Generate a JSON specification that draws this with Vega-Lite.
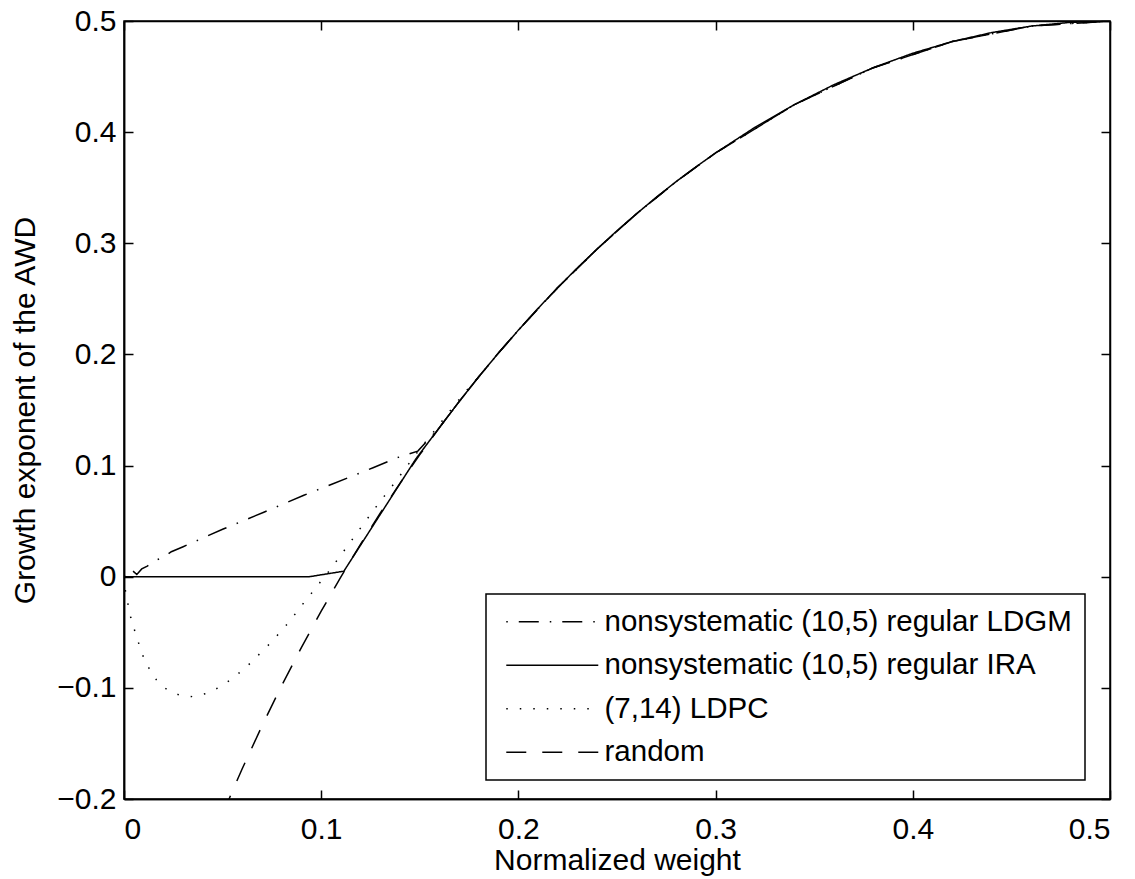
{
  "$schema": "https://vega.github.io/schema/vega-lite/v6.json",
  "width": 986,
  "height": 778,
  "autosize": {"type": "none"},
  "padding": {"left": 124, "top": 21, "right": 25, "bottom": 80},
  "background": "white",
  "config": {
    "view": {"stroke": "black", "strokeWidth": 1.5},
    "font": "Liberation Sans",
    "axis": {
      "grid": false,
      "domainColor": "black",
      "domainWidth": 1.5,
      "tickColor": "black",
      "tickWidth": 1.5,
      "tickSize": -9,
      "labelColor": "black",
      "labelFont": "Liberation Sans",
      "labelFontSize": 30,
      "titleColor": "black",
      "titleFont": "Liberation Sans",
      "titleFontSize": 30,
      "titleFontWeight": "normal"
    },
    "legend": {"strokeWidth": 1.5}
  },
  "datasets": {
    "d": [
      {"s": "nonsystematic (10,5) regular LDGM", "x": 0, "y": 0},
      {"s": "nonsystematic (10,5) regular LDGM", "x": 0.002, "y": 0.001},
      {"s": "nonsystematic (10,5) regular LDGM", "x": 0.004, "y": 0.006},
      {"s": "nonsystematic (10,5) regular LDGM", "x": 0.0065, "y": 0.002},
      {"s": "nonsystematic (10,5) regular LDGM", "x": 0.009, "y": 0.007},
      {"s": "nonsystematic (10,5) regular LDGM", "x": 0.0118, "y": 0.0096},
      {"s": "nonsystematic (10,5) regular LDGM", "x": 0.0164, "y": 0.015},
      {"s": "nonsystematic (10,5) regular LDGM", "x": 0.02, "y": 0.0175},
      {"s": "nonsystematic (10,5) regular LDGM", "x": 0.024, "y": 0.0225},
      {"s": "nonsystematic (10,5) regular LDGM", "x": 0.03, "y": 0.027},
      {"s": "nonsystematic (10,5) regular LDGM", "x": 0.0503, "y": 0.0429},
      {"s": "nonsystematic (10,5) regular LDGM", "x": 0.0709, "y": 0.058},
      {"s": "nonsystematic (10,5) regular LDGM", "x": 0.0912, "y": 0.0733},
      {"s": "nonsystematic (10,5) regular LDGM", "x": 0.1057, "y": 0.0834},
      {"s": "nonsystematic (10,5) regular LDGM", "x": 0.1263, "y": 0.0981},
      {"s": "nonsystematic (10,5) regular LDGM", "x": 0.1386, "y": 0.1071},
      {"s": "nonsystematic (10,5) regular LDGM", "x": 0.149, "y": 0.113},
      {"s": "nonsystematic (10,5) regular LDGM", "x": 0.16, "y": 0.1343},
      {"s": "nonsystematic (10,5) regular LDGM", "x": 0.17, "y": 0.1577},
      {"s": "nonsystematic (10,5) regular LDGM", "x": 0.18, "y": 0.1801},
      {"s": "nonsystematic (10,5) regular LDGM", "x": 0.19, "y": 0.2015},
      {"s": "nonsystematic (10,5) regular LDGM", "x": 0.2, "y": 0.2219},
      {"s": "nonsystematic (10,5) regular LDGM", "x": 0.22, "y": 0.2602},
      {"s": "nonsystematic (10,5) regular LDGM", "x": 0.24, "y": 0.295},
      {"s": "nonsystematic (10,5) regular LDGM", "x": 0.26, "y": 0.3267},
      {"s": "nonsystematic (10,5) regular LDGM", "x": 0.28, "y": 0.3555},
      {"s": "nonsystematic (10,5) regular LDGM", "x": 0.3, "y": 0.3813},
      {"s": "nonsystematic (10,5) regular LDGM", "x": 0.34, "y": 0.4248},
      {"s": "nonsystematic (10,5) regular LDGM", "x": 0.38, "y": 0.458},
      {"s": "nonsystematic (10,5) regular LDGM", "x": 0.42, "y": 0.4815},
      {"s": "nonsystematic (10,5) regular LDGM", "x": 0.46, "y": 0.4954},
      {"s": "nonsystematic (10,5) regular LDGM", "x": 0.5, "y": 0.5},

      {"s": "(7,14) LDPC", "x": 0, "y": 0},
      {"s": "(7,14) LDPC", "x": 0.0007, "y": -0.0126},
      {"s": "(7,14) LDPC", "x": 0.002, "y": -0.0245},
      {"s": "(7,14) LDPC", "x": 0.0034, "y": -0.0365},
      {"s": "(7,14) LDPC", "x": 0.0065, "y": -0.055},
      {"s": "(7,14) LDPC", "x": 0.0098, "y": -0.072},
      {"s": "(7,14) LDPC", "x": 0.0128, "y": -0.0828},
      {"s": "(7,14) LDPC", "x": 0.0165, "y": -0.0929},
      {"s": "(7,14) LDPC", "x": 0.0216, "y": -0.1013},
      {"s": "(7,14) LDPC", "x": 0.0279, "y": -0.1064},
      {"s": "(7,14) LDPC", "x": 0.0346, "y": -0.1079},
      {"s": "(7,14) LDPC", "x": 0.0414, "y": -0.1052},
      {"s": "(7,14) LDPC", "x": 0.0476, "y": -0.1001},
      {"s": "(7,14) LDPC", "x": 0.0534, "y": -0.0935},
      {"s": "(7,14) LDPC", "x": 0.0588, "y": -0.086},
      {"s": "(7,14) LDPC", "x": 0.064, "y": -0.0779},
      {"s": "(7,14) LDPC", "x": 0.0689, "y": -0.0692},
      {"s": "(7,14) LDPC", "x": 0.0738, "y": -0.0605},
      {"s": "(7,14) LDPC", "x": 0.0784, "y": -0.0515},
      {"s": "(7,14) LDPC", "x": 0.0829, "y": -0.0423},
      {"s": "(7,14) LDPC", "x": 0.0873, "y": -0.0324},
      {"s": "(7,14) LDPC", "x": 0.0915, "y": -0.0227},
      {"s": "(7,14) LDPC", "x": 0.0957, "y": -0.0135},
      {"s": "(7,14) LDPC", "x": 0.1001, "y": -0.0036},
      {"s": "(7,14) LDPC", "x": 0.1044, "y": 0.006},
      {"s": "(7,14) LDPC", "x": 0.1125, "y": 0.0256},
      {"s": "(7,14) LDPC", "x": 0.1206, "y": 0.0454},
      {"s": "(7,14) LDPC", "x": 0.1288, "y": 0.0652},
      {"s": "(7,14) LDPC", "x": 0.1373, "y": 0.0846},
      {"s": "(7,14) LDPC", "x": 0.1496, "y": 0.114},
      {"s": "(7,14) LDPC", "x": 0.1582, "y": 0.133},
      {"s": "(7,14) LDPC", "x": 0.167, "y": 0.153},
      {"s": "(7,14) LDPC", "x": 0.1756, "y": 0.1716},
      {"s": "(7,14) LDPC", "x": 0.18, "y": 0.1801},
      {"s": "(7,14) LDPC", "x": 0.19, "y": 0.2015},
      {"s": "(7,14) LDPC", "x": 0.2, "y": 0.2219},
      {"s": "(7,14) LDPC", "x": 0.22, "y": 0.2602},
      {"s": "(7,14) LDPC", "x": 0.24, "y": 0.295},
      {"s": "(7,14) LDPC", "x": 0.26, "y": 0.3267},
      {"s": "(7,14) LDPC", "x": 0.28, "y": 0.3555},
      {"s": "(7,14) LDPC", "x": 0.3, "y": 0.3813},
      {"s": "(7,14) LDPC", "x": 0.34, "y": 0.4248},
      {"s": "(7,14) LDPC", "x": 0.38, "y": 0.458},
      {"s": "(7,14) LDPC", "x": 0.42, "y": 0.4815},
      {"s": "(7,14) LDPC", "x": 0.46, "y": 0.4954},
      {"s": "(7,14) LDPC", "x": 0.5, "y": 0.5},

      {"s": "random", "x": 0.05, "y": -0.2136},
      {"s": "random", "x": 0.055, "y": -0.1928},
      {"s": "random", "x": 0.06, "y": -0.1726},
      {"s": "random", "x": 0.07, "y": -0.1341},
      {"s": "random", "x": 0.08, "y": -0.0978},
      {"s": "random", "x": 0.09, "y": -0.0635},
      {"s": "random", "x": 0.1, "y": -0.031},
      {"s": "random", "x": 0.11, "y": -0.0001},
      {"s": "random", "x": 0.12, "y": 0.0294},
      {"s": "random", "x": 0.13, "y": 0.0574},
      {"s": "random", "x": 0.14, "y": 0.0842},
      {"s": "random", "x": 0.15, "y": 0.1098},
      {"s": "random", "x": 0.16, "y": 0.1343},
      {"s": "random", "x": 0.17, "y": 0.1577},
      {"s": "random", "x": 0.18, "y": 0.1801},
      {"s": "random", "x": 0.19, "y": 0.2015},
      {"s": "random", "x": 0.2, "y": 0.2219},
      {"s": "random", "x": 0.22, "y": 0.2602},
      {"s": "random", "x": 0.24, "y": 0.295},
      {"s": "random", "x": 0.26, "y": 0.3267},
      {"s": "random", "x": 0.28, "y": 0.3555},
      {"s": "random", "x": 0.3, "y": 0.3813},
      {"s": "random", "x": 0.34, "y": 0.4248},
      {"s": "random", "x": 0.38, "y": 0.458},
      {"s": "random", "x": 0.42, "y": 0.4815},
      {"s": "random", "x": 0.46, "y": 0.4954},
      {"s": "random", "x": 0.5, "y": 0.5},

      {"s": "nonsystematic (10,5) regular IRA", "x": 0, "y": 0},
      {"s": "nonsystematic (10,5) regular IRA", "x": 0.094, "y": 0},
      {"s": "nonsystematic (10,5) regular IRA", "x": 0.1115, "y": 0.005},
      {"s": "nonsystematic (10,5) regular IRA", "x": 0.148, "y": 0.106},
      {"s": "nonsystematic (10,5) regular IRA", "x": 0.16, "y": 0.1343},
      {"s": "nonsystematic (10,5) regular IRA", "x": 0.17, "y": 0.1577},
      {"s": "nonsystematic (10,5) regular IRA", "x": 0.18, "y": 0.1801},
      {"s": "nonsystematic (10,5) regular IRA", "x": 0.19, "y": 0.2015},
      {"s": "nonsystematic (10,5) regular IRA", "x": 0.2, "y": 0.2219},
      {"s": "nonsystematic (10,5) regular IRA", "x": 0.21, "y": 0.2415},
      {"s": "nonsystematic (10,5) regular IRA", "x": 0.22, "y": 0.2602},
      {"s": "nonsystematic (10,5) regular IRA", "x": 0.23, "y": 0.278},
      {"s": "nonsystematic (10,5) regular IRA", "x": 0.24, "y": 0.295},
      {"s": "nonsystematic (10,5) regular IRA", "x": 0.25, "y": 0.3113},
      {"s": "nonsystematic (10,5) regular IRA", "x": 0.26, "y": 0.3267},
      {"s": "nonsystematic (10,5) regular IRA", "x": 0.27, "y": 0.3415},
      {"s": "nonsystematic (10,5) regular IRA", "x": 0.28, "y": 0.3555},
      {"s": "nonsystematic (10,5) regular IRA", "x": 0.29, "y": 0.3687},
      {"s": "nonsystematic (10,5) regular IRA", "x": 0.3, "y": 0.3813},
      {"s": "nonsystematic (10,5) regular IRA", "x": 0.32, "y": 0.4044},
      {"s": "nonsystematic (10,5) regular IRA", "x": 0.34, "y": 0.4248},
      {"s": "nonsystematic (10,5) regular IRA", "x": 0.36, "y": 0.4427},
      {"s": "nonsystematic (10,5) regular IRA", "x": 0.38, "y": 0.458},
      {"s": "nonsystematic (10,5) regular IRA", "x": 0.4, "y": 0.471},
      {"s": "nonsystematic (10,5) regular IRA", "x": 0.42, "y": 0.4815},
      {"s": "nonsystematic (10,5) regular IRA", "x": 0.44, "y": 0.4896},
      {"s": "nonsystematic (10,5) regular IRA", "x": 0.46, "y": 0.4954},
      {"s": "nonsystematic (10,5) regular IRA", "x": 0.48, "y": 0.4988},
      {"s": "nonsystematic (10,5) regular IRA", "x": 0.5, "y": 0.5}
    ]
  },
  "layer": [
    {
      "data": {"name": "d"},
      "mark": {"type": "line", "color": "black", "strokeWidth": 1.5, "clip": true},
      "encoding": {
        "x": {
          "field": "x", "type": "quantitative",
          "scale": {"domain": [0, 0.5], "nice": false, "zero": false},
          "axis": {"orient": "bottom", "values": [0, 0.1, 0.2, 0.3, 0.4, 0.5], "format": ".1~f", "ticks": false, "labelPadding": 15, "title": "Normalized weight", "titlePadding": 1}
        },
        "y": {
          "field": "y", "type": "quantitative",
          "scale": {"domain": [-0.2, 0.5], "nice": false, "zero": false},
          "axis": {"orient": "left", "values": [-0.2, -0.1, 0, 0.1, 0.2, 0.3, 0.4, 0.5], "format": ".1~f", "ticks": false, "labelPadding": 8, "title": "Growth exponent of the AWD", "titlePadding": 16}
        },
        "strokeDash": {
          "field": "s", "type": "nominal",
          "scale": {
            "domain": ["nonsystematic (10,5) regular LDGM", "nonsystematic (10,5) regular IRA", "(7,14) LDPC", "random"],
            "range": [[1.5, 11, 20, 11], [1, 0], [1.5, 12], [20, 16]]
          },
          "legend": {
            "title": null,
            "orient": "none",
            "legendX": 362,
            "legendY": 573,
            "symbolType": "M-0.65,0H7.35",
            "symbolSize": 529,
            "symbolStrokeWidth": 1.5,
            "symbolStrokeColor": "black",
            "labelFontSize": 29.5,
            "labelFont": "Liberation Sans",
            "labelColor": "black",
            "labelOffset": 76,
            "labelLimit": 1000,
            "rowPadding": 12.5,
            "padding": 13,
            "strokeColor": "black",
            "fillColor": "white",
            "cornerRadius": 0
          }
        }
      }
    },
    {
      "data": {"name": "d"},
      "mark": {"type": "line", "opacity": 0},
      "encoding": {
        "x": {"field": "x", "type": "quantitative", "axis": {"orient": "top", "values": [0, 0.1, 0.2, 0.3, 0.4, 0.5], "labels": false, "title": null}},
        "y": {"field": "y", "type": "quantitative", "axis": {"orient": "right", "values": [-0.2, -0.1, 0, 0.1, 0.2, 0.3, 0.4, 0.5], "labels": false, "title": null}},
        "detail": {"field": "s", "type": "nominal"}
      }
    },
    {
      "data": {"name": "d"},
      "mark": {"type": "line", "opacity": 0},
      "encoding": {
        "x": {"field": "x", "type": "quantitative", "axis": {"orient": "bottom", "values": [0, 0.1, 0.2, 0.3, 0.4, 0.5], "labels": false, "title": null}},
        "y": {"field": "y", "type": "quantitative", "axis": {"orient": "left", "values": [-0.2, -0.1, 0, 0.1, 0.2, 0.3, 0.4, 0.5], "labels": false, "title": null}},
        "detail": {"field": "s", "type": "nominal"}
      }
    }
  ],
  "resolve": {"axis": {"x": "independent", "y": "independent"}}
}
